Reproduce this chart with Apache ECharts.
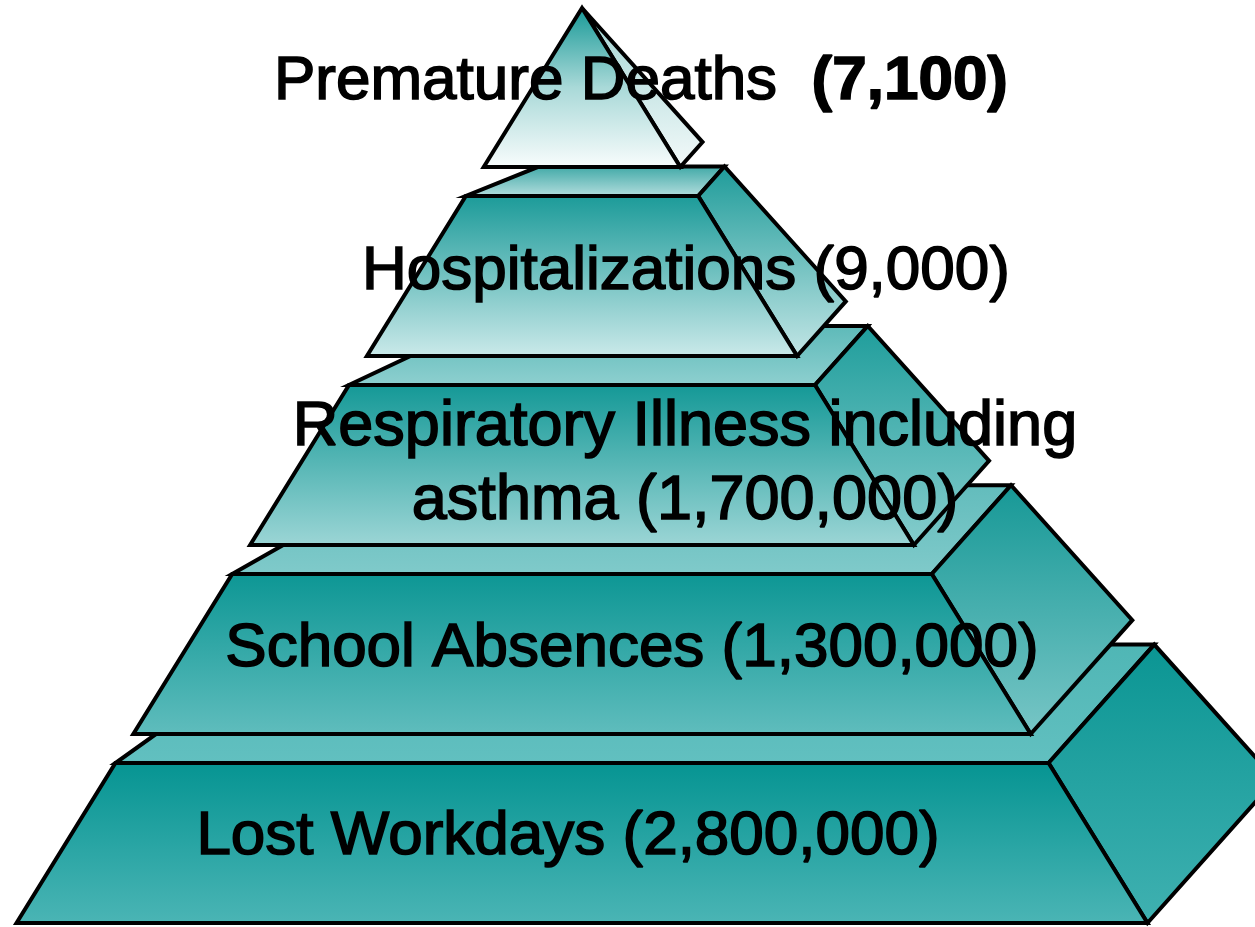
<!DOCTYPE html>
<html>
<head>
<meta charset="utf-8">
<title>Health effects pyramid</title>
<script src="https://cdn.jsdelivr.net/npm/echarts@6/dist/echarts.min.js"></script>
<style>
  html, body { margin: 0; padding: 0; background: #fff; }
  #main { width: 1255px; height: 927px; }
</style>
</head>
<body>
<div id="main"></div>
<script>
// tiers, top of the pyramid first
var tierNames = ['Premature Deaths', 'Hospitalizations', 'Respiratory Illness including\nasthma', 'School Absences', 'Lost Workdays'];
var tierValues = [7100, 9000, 1700000, 1300000, 2800000];
var valueBold = [true, false, false, false, false];

// layout, in pixels of the 1255x927 page
var W = 1255, H = 927;
var apex = [582, 8];
var edgeSlope = 0.618;      // half width added per px going down
var tierPitch = 189;
var firstBottom = 167;
var tierGap = 29;
var labelAnchor = [[641, 82], [686, 272], [685, 465], [632, 649], [568, 837]];
var labelSize = [62, 62, 63, 62, 62];

// face colours, top to bottom
var frontColors = [['#159896', '#a9d9d8', '#fafdfd'], ['#1a9a98', '#cceaea'], ['#139896', '#9dd6d6'], ['#0c9694', '#60bdbd'], ['#059492', '#4bb5b5']];
var sideColors = [['#9fd3d2', '#f4fafa'], ['#1d9b99', '#c4e6e6'], ['#1e9d9b', '#86cdcd'], ['#169896', '#78c6c6'], ['#0a9593', '#40b1b1']];
var topColors = [null, ['#3aa6a4', '#b9e0e0'], ['#5cb9b8', '#8fd0d0'], ['#62bcbc', '#80caca'], ['#4fb6b5', '#62c0c0']];

var family = '"Liberation Sans", Arial, sans-serif';

function grad(cols) {
  var stops = cols.map(function (c, k) { return { offset: k / (cols.length - 1), color: c }; });
  return new echarts.graphic.LinearGradient(0, 0, 0, 1, stops);
}

function depth(y) {
  var dx = 0.14 * (y - apex[1]);
  return [dx, -1.12 * dx];
}

function fmt(v) { return v.toLocaleString('en-US'); }

function renderTier(params, api) {
  var i = api.value(0);
  var yb = firstBottom + tierPitch * i;
  var yt = i === 0 ? apex[1] : yb - tierPitch + tierGap;
  var cx = apex[0];
  var hwT = edgeSlope * (yt - apex[1]);
  var hwB = edgeSlope * (yb - apex[1]);
  var dT = depth(yt), dB = depth(yb);
  var FL = [cx - hwT, yt], FR = [cx + hwT, yt];
  var BR = [cx + hwB, yb], BL = [cx - hwB, yb];
  var kL = 2.85 - 0.0019 * yt;
  var toPx = function (pts) { return pts.map(function (p) { return api.coord(p); }); };
  var line = { stroke: '#000', lineWidth: 4, lineJoin: 'miter' };
  var children = [];
  if (i > 0) {
    children.push({
      type: 'polygon',
      shape: { points: toPx([FL, FR, [FR[0] + dT[0], yt + dT[1]], [FL[0] - kL * dT[1], yt + dT[1]]]) },
      style: Object.assign({ fill: grad(topColors[i]) }, line)
    });
  }
  children.push({
    type: 'polygon',
    shape: { points: toPx([FR, [FR[0] + dT[0], yt + dT[1]], [BR[0] + dB[0], yb + dB[1]], BR]) },
    style: Object.assign({ fill: grad(sideColors[i]) }, line)
  });
  children.push({
    type: 'polygon',
    shape: { points: i === 0 ? toPx([FL, BR, BL]) : toPx([FL, FR, BR, BL]) },
    style: Object.assign({ fill: grad(frontColors[i]) }, line)
  });
  return { type: 'group', children: children };
}

function renderLabel(params, api) {
  var i = api.value(0);
  var p = api.coord(labelAnchor[i]);
  var font = labelSize[i] + 'px ' + family;
  var base = { fill: '#000', stroke: '#000', lineWidth: 1.6 };
  var style;
  if (valueBold[i]) {
    style = {
      text: '{n|' + tierNames[i] + '  }{v|(' + fmt(tierValues[i]) + ')}',
      rich: {
        n: Object.assign({ font: font }, base),
        v: Object.assign({ font: 'bold ' + font }, base)
      }
    };
  } else {
    style = Object.assign({ text: tierNames[i] + ' (' + fmt(tierValues[i]) + ')', font: font, lineHeight: 74 }, base);
  }
  style.align = 'center';
  style.verticalAlign = 'middle';
  return { type: 'text', x: p[0], y: p[1], z2: 100, style: style };
}

// bottom tier first so upper tiers sit on top
var drawOrder = [4, 3, 2, 1, 0];
var seriesData = drawOrder.map(function (i) { return [i, tierValues[i]]; });

var chart = echarts.init(document.getElementById('main'), null, { renderer: 'canvas' });
chart.setOption({
  animation: false,
  backgroundColor: '#fff',
  grid: { left: 0, right: 0, top: 0, bottom: 0 },
  xAxis: { type: 'value', min: 0, max: W, show: false },
  yAxis: { type: 'value', min: 0, max: H, inverse: true, show: false },
  series: [
    { type: 'custom', name: 'tiers', renderItem: renderTier, data: seriesData, clip: false, encode: { x: -1, y: -1 } },
    { type: 'custom', name: 'labels', z: 3, renderItem: renderLabel, data: seriesData, clip: false, encode: { x: -1, y: -1 } }
  ]
});
</script>
</body>
</html>
